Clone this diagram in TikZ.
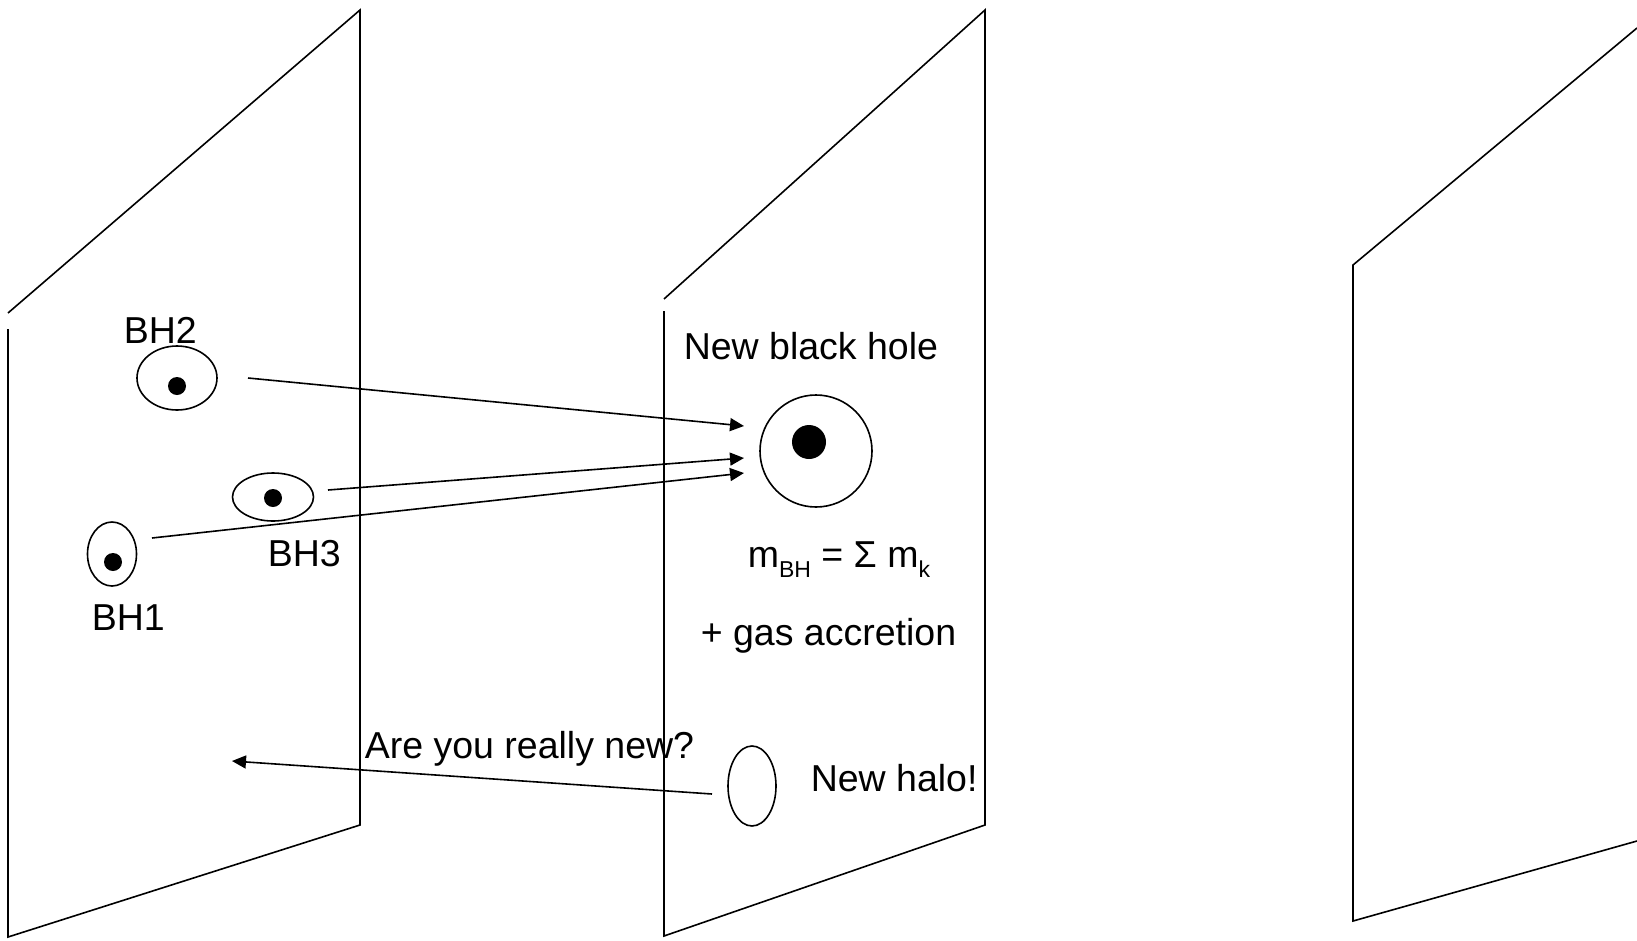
\documentclass[tikz,border=0pt]{standalone}
\usepackage{fontspec}
\setmainfont{Liberation Sans}
\usepackage{tikz}
\usetikzlibrary{arrows.meta,positioning,shapes.geometric}
\newcommand{\lowtxt}[1]{\raisebox{-10pt}{\fontsize{23}{23}\selectfont #1}}

\begin{document}
\begin{tikzpicture}[
  x=1pt, y=-1pt,
  line width=1.6pt,
  halo/.style={draw,ellipse,inner sep=0pt},
  bhdot/.style={circle,fill=black,inner sep=0pt,minimum size=18pt},
  lbl/.style={anchor=base west,inner sep=0pt,font=\fontsize{37.5}{45}\selectfont},
  arrow/.style={-{Triangle[length=14pt,width=13pt]},line width=1.6pt}
]
  \useasboundingbox (0,0) rectangle (1637,940);

  % time slices
  \draw (8,329) -- (8,937) -- (360,825) -- (360,10) -- (8,313);
  \draw (664,311) -- (664,936) -- (985,825) -- (985,10) -- (664,299);
  \draw (1637,28) -- (1353,265) -- (1353,921) -- (1637,841);

  % old halos
  \node[halo, minimum width=80pt, minimum height=64pt] (bh2) at (177,378) {};
  \node[bhdot] (bh2dot) at (177,386) {};
  \node[halo, minimum width=81pt, minimum height=48pt] (bh3) at (273,497) {};
  \node[bhdot] (bh3dot) at (273,498) {};
  \node[halo, minimum width=49pt, minimum height=64pt] (bh1) at (112,554) {};
  \node[bhdot] (bh1dot) at (113,562) {};
  \node[lbl] (bh2lbl) at (123,343) {BH2};
  \node[lbl] (bh3lbl) at (267,566) {BH3};
  \node[lbl] (bh1lbl) at (91,630) {BH1};

  % merged halo
  \node[halo, circle, minimum size=112pt] (newbh) at (816,451) {};
  \node[circle,fill=black,inner sep=0pt,minimum size=34pt] (newdot) at (809,442) {};
  \node[lbl] (newlbl) at (683,359) {New black hole};
  \node[lbl] (mass) at (747,567) {m\lowtxt{BH} = Σ m\lowtxt{k}};
  \node[lbl] (gas) at (700,645) {+ gas accretion};

  % fresh halo
  \node[halo, minimum width=48pt, minimum height=80pt] (newhalo) at (752,786) {};
  \node[lbl] (halolbl) at (810,791) {New halo!};
  \node[lbl] (ask) at (364,758) {Are you really new?};

  \coordinate (out2) at (248,378);
  \coordinate (out3) at (328,490);
  \coordinate (out1) at (152,538);
  \coordinate (in2) at (744,426);
  \coordinate (in3) at (744,458);
  \coordinate (in1) at (744,473);
  \coordinate (haloout) at (712,794);
  \coordinate (back) at (232,761);

  \draw[arrow] (out2) -- (in2);
  \draw[arrow] (out3) -- (in3);
  \draw[arrow] (out1) -- (in1);
  \draw[arrow] (haloout) -- (back);
\end{tikzpicture}
\end{document}
